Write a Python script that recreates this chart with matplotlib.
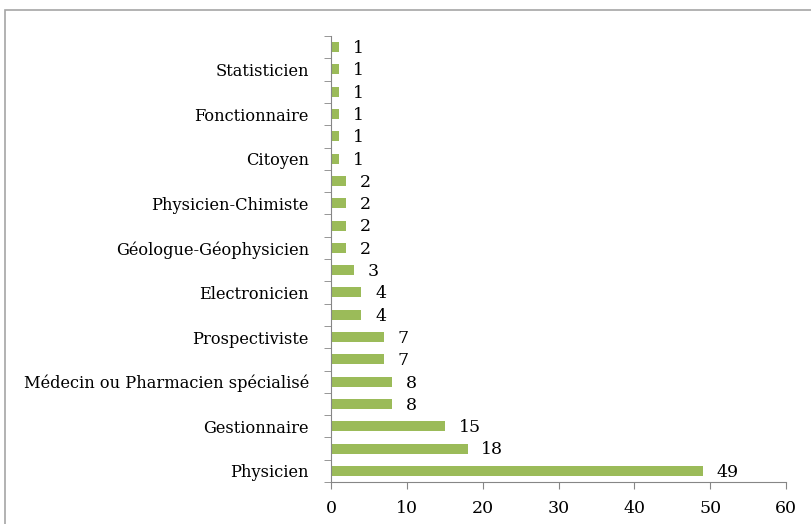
import numpy as np
import matplotlib.pyplot as plt
from matplotlib.patches import Rectangle

# categories from bottom to top (hidden labels left blank)
labels = ['Physicien', '', 'Gestionnaire', '', 'Médecin ou Pharmacien spécialisé', '',
          'Prospectiviste', '', 'Electronicien', '', 'Géologue-Géophysicien', '',
          'Physicien-Chimiste', '', 'Citoyen', '', 'Fonctionnaire', '', 'Statisticien', '']
values = [49, 18, 15, 8, 8, 7, 7, 4, 4, 3, 2, 2, 2, 2, 1, 1, 1, 1, 1, 1]
xticks = [0, 10, 20, 30, 40, 50, 60]

plt.rcParams['font.family'] = ['DejaVu Serif']

fig = plt.figure(figsize=(8.11, 5.24), dpi=100)
ax = fig.add_axes([331/811, 1 - 482/524, (786 - 331)/811, (482 - 36)/524])

# outer chart frame
fig.patches.append(Rectangle((5/811, -0.1), 1.2, 1 - 10/524 + 0.1,
                             transform=fig.transFigure, fill=False,
                             edgecolor='#a6a6a6', linewidth=1.2))

y = np.arange(len(values))
ax.barh(y, values, height=0.45, color='#9bbb59')

for yi, v in zip(y, values):
    ax.annotate(str(v), (v, yi), xytext=(10, -1), textcoords='offset points',
                va='center', ha='left', fontsize=12.5)

ax.set_xlim(0, 60)
ax.set_ylim(-0.5, len(values) - 0.5)
ax.set_xticks(xticks)
ax.set_yticks(y)
ax.set_yticklabels(labels, fontsize=11.7)
ax.set_yticks(np.arange(-0.5, len(values)), minor=True)
ax.tick_params(axis='y', which='major', length=0, pad=16)
ax.tick_params(axis='y', which='minor', length=5, color='#868686')
ax.tick_params(axis='x', length=5, color='#868686', labelsize=12.5, pad=8)

for s in ['top', 'right']:
    ax.spines[s].set_visible(False)
for s in ['left', 'bottom']:
    ax.spines[s].set_color('#868686')

fig.savefig('out.png', dpi=100)
